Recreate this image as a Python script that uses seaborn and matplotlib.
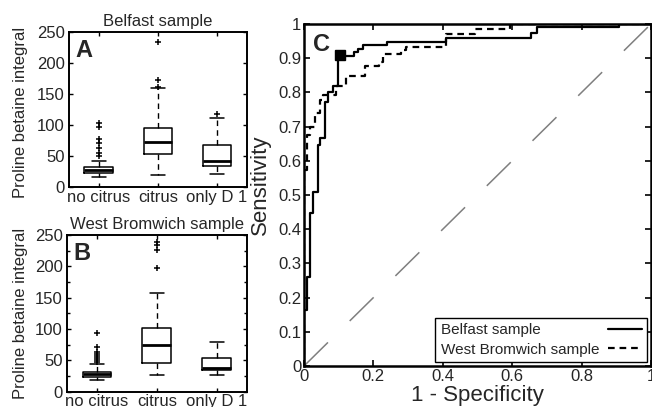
import numpy as np
import matplotlib
matplotlib.use('Agg')
import matplotlib.pyplot as plt
from matplotlib.ticker import MultipleLocator, FuncFormatter
import seaborn as sns

# ── box plot summaries
cats = ['no citrus', 'citrus', 'only D 1']

bel_lo = [17, 20, 21]
bel_q1 = [22.5, 53, 34]
bel_med = [28, 72, 41.5]
bel_q3 = [33, 96, 68]
bel_hi = [43, 159, 111]
bel_fliers = [[51, 55, 63, 71, 77, 97.5, 104], [161, 172.5, 233.5], [117.5]]

wb_lo = [18.5, 26.6, 26]
wb_q1 = [24, 46.3, 35]
wb_med = [28.2, 74.5, 37.3]
wb_q3 = [32, 101, 53.5]
wb_hi = [44, 157, 79]
wb_fliers = [[47, 50, 53, 57, 60, 64, 72, 93], [198, 226, 234, 239], []]

# ── ROC step vertices (1 - specificity, sensitivity)
bel_fpr = [0, 0, 0.01, 0.017, 0.027, 0.04, 0.046, 0.061, 0.07, 0.085, 0.099,
           0.143, 0.157, 0.171, 0.239, 0.408, 0.653, 0.672, 0.908, 1.0]
bel_tpr = [0, 0.164, 0.26, 0.448, 0.51, 0.646, 0.667, 0.773, 0.80, 0.82, 0.905,
           0.918, 0.928, 0.938, 0.947, 0.959, 0.975, 0.99, 1.0, 1.0]
wb_fpr = [0, 0, 0.008, 0.017, 0.032, 0.046, 0.055, 0.092, 0.12, 0.175, 0.215,
          0.229, 0.28, 0.295, 0.408, 0.494, 0.595, 1.0]
wb_tpr = [0, 0.573, 0.675, 0.70, 0.74, 0.778, 0.792, 0.819, 0.847, 0.876, 0.889,
          0.913, 0.923, 0.933, 0.971, 0.985, 1.0, 1.0]
cut_fpr = [0.105]
cut_tpr = [0.908]

sns.set_style('ticks')
plt.rcParams['font.family'] = ['Liberation Sans', 'DejaVu Sans']
plt.rcParams['axes.linewidth'] = 1.4
plt.rcParams['xtick.direction'] = 'in'
plt.rcParams['ytick.direction'] = 'in'

W, H = 652, 407
fig = plt.figure(figsize=(W / 100, H / 100), dpi=100, facecolor='white')


def px_axes(l, t, r, b):
    return fig.add_axes([l / W, 1 - b / H, (r - l) / W, (b - t) / H])


def draw_box(ax, lo, q1, med, q3, hi, fliers, title, letter, minor):
    stats = []
    for i in range(len(cats)):
        stats.append({'whislo': lo[i], 'q1': q1[i], 'med': med[i], 'q3': q3[i],
                      'whishi': hi[i], 'fliers': fliers[i], 'label': cats[i]})
    ax.bxp(stats, widths=0.48, capwidths=0.24, showfliers=True,
           boxprops=dict(color='k', lw=1.1),
           medianprops=dict(color='k', lw=2.0),
           whiskerprops=dict(color='k', lw=1.0, linestyle=(0, (4, 3))),
           capprops=dict(color='k', lw=1.1),
           flierprops=dict(marker='+', markersize=4.5, markeredgecolor='k',
                           markeredgewidth=1.1, linestyle='none'))
    ax.set_xlim(0.5, 3.5)
    ax.set_ylim(0, 250)
    ax.set_yticks([0, 50, 100, 150, 200, 250])
    if minor:
        ax.yaxis.set_minor_locator(MultipleLocator(25))
    ax.tick_params(which='both', top=True, right=True, length=3, width=1.0,
                   labelsize=12, pad=3, color='k')
    ax.tick_params(axis='x', pad=2)
    ax.tick_params(which='minor', length=2.5)
    ax.set_ylabel('Proline betaine integral', fontsize=12)
    ax.set_title(title, fontsize=12, pad=4)
    ax.text(0.035, 0.955, letter, transform=ax.transAxes, fontsize=17,
            fontweight='bold', va='top', ha='left')
    for s in ax.spines.values():
        s.set_color('k')


axA = px_axes(69, 31.7, 246.7, 187.3)
draw_box(axA, bel_lo, bel_q1, bel_med, bel_q3, bel_hi, bel_fliers,
         'Belfast sample', 'A', False)
axB = px_axes(67, 235, 246.7, 391.7)
draw_box(axB, wb_lo, wb_q1, wb_med, wb_q3, wb_hi, wb_fliers,
         'West Bromwich sample', 'B', True)
axA.yaxis.set_label_coords(-0.23, 0.48)
axB.yaxis.set_label_coords(-0.215, 0.5)

# ── ROC panel
axC = px_axes(304, 24, 651, 366)
axC.plot([0, 1], [0, 1], color='#7f7f7f', lw=1.1, dashes=(22, 20))
sns.lineplot(x=bel_fpr, y=bel_tpr, ax=axC, color='k', lw=1.6, sort=False,
             estimator=None, drawstyle='steps-post', label='Belfast sample')
sns.lineplot(x=wb_fpr, y=wb_tpr, ax=axC, color='k', lw=1.6, sort=False,
             estimator=None, drawstyle='steps-post', dashes=False,
             linestyle=(0, (3, 2.2)), label='West Bromwich sample')
axC.plot(cut_fpr, cut_tpr, marker='s', color='k', markersize=7, linestyle='none')
axC.set_xlim(0, 1)
axC.set_ylim(0, 1)
axC.set_xticks(np.arange(0, 1.01, 0.2))
axC.set_yticks(np.arange(0, 1.01, 0.1))
fmt = FuncFormatter(lambda v, p: f'{round(v, 2):g}')
axC.xaxis.set_major_formatter(fmt)
axC.yaxis.set_major_formatter(fmt)
axC.tick_params(top=True, right=True, length=4, width=1.2, labelsize=12,
                pad=2, color='k')
axC.set_xlabel('1 - Specificity', fontsize=16, labelpad=1)
axC.set_ylabel('Sensitivity', fontsize=16)
axC.yaxis.set_label_coords(-0.095, 0.53)
axC.text(0.026, 0.975, 'C', transform=axC.transAxes, fontsize=17,
         fontweight='bold', va='top', ha='left')
for s in axC.spines.values():
    s.set_color('k')
    s.set_linewidth(1.8)
leg = axC.legend(loc='lower right', markerfirst=False, fontsize=11,
                 frameon=True, fancybox=False, framealpha=1, edgecolor='k',
                 borderaxespad=0.25, handlelength=2.2, borderpad=0.35,
                 labelspacing=0.35, handletextpad=0.6)
leg.get_frame().set_linewidth(1.0)

# left-align legend labels while keeping the line samples on the right
fig.canvas.draw()
renderer = fig.canvas.get_renderer()
try:
    widths = [t.get_window_extent(renderer).width for t in leg.get_texts()]
    maxw = max(widths)
    for col in leg._legend_handle_box.get_children():
        for item in col.get_children():
            txt = item.get_children()[0]._text
            w = txt.get_window_extent(renderer).width
            item.sep += (maxw - w) * 72 / fig.dpi
except Exception:
    pass

fig.savefig('out.png', dpi=100, facecolor='white')
